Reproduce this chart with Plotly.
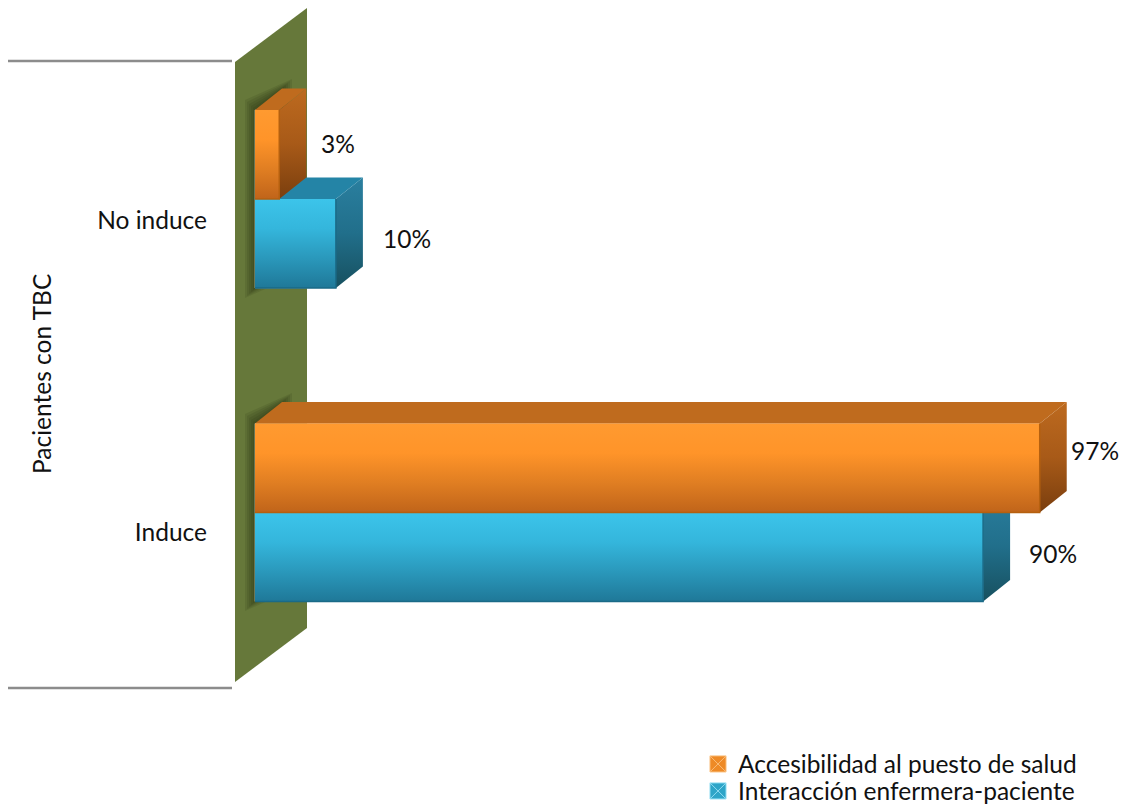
import plotly.graph_objects as go

categories = ["Induce", "No induce"]
acces = [97, 3]
inter = [90, 10]
series_names = ["Accesibilidad al puesto de salud", "Interacción enfermera-paciente"]
axis_title = "Pacientes con TBC"

W, H = 1128, 809
X0_PX, PX_PER_X = 255.0, 8.09
Y0_PX, PX_PER_Y = 512.5, 313.5
FONT = "Lato"
FS = 24.5


def xd(px):
    return (px - X0_PX) / PX_PER_X


def yd(py):
    return (Y0_PX - py) / PX_PER_Y


BAR_H = 89 / PX_PER_Y
DX = 27 / PX_PER_X
DY = 21.5 / PX_PER_Y

STY = {
    "orange": dict(front=["#c0641a", "#e07e22", "#ff9429", "#ff9a30"], side=["#7a3e0e", "#a85a18", "#bd6a1f"], top="#bf6b1e", legend="#ee8a26", x="#f9bd7a", edge="#b5600f"),
    "blue": dict(front=["#1f7898", "#2a98bb", "#34b6dc", "#3cc4ea"], side=["#17505f", "#216f8b", "#2a7f9f"], top="#2484a6", legend="#2ea5c8", x="#8fdcf2", edge="#1a6a87"),
}


def grad(colors):
    n = len(colors) - 1
    return dict(type="vertical", colorscale=[[i / n, c] for i, c in enumerate(colors)])


def poly(xs, ys, colors=None, solid=None):
    kw = dict(
        x=xs + xs[:1], y=ys + ys[:1], mode="lines", line=dict(width=0), fill="toself",
        hoverinfo="skip", showlegend=False,
    )
    if colors:
        kw["fillgradient"] = grad(colors)
    else:
        kw["fillcolor"] = solid
    return go.Scatter(**kw)


def faces(values, sign, sty):
    out = []
    for i, v in enumerate(values):
        y0 = i + sign * BAR_H / 2 - BAR_H / 2
        y1 = y0 + BAR_H
        out.append(poly([v, v + DX, v + DX, v], [y1, y1 + DY, y0 + DY, y0], colors=sty["side"]))
        out.append(poly([0, DX, v + DX, v], [y1, y1 + DY, y1 + DY, y1], solid=sty["top"]))
        out.append(poly([0, v, v, 0], [y0, y0, y1, y1], colors=sty["front"]))
        out.append(go.Scatter(x=[0, v, v], y=[y0, y0, y1], mode="lines", line=dict(color=sty["edge"], width=1.5), hoverinfo="skip", showlegend=False))
    return out


fig = go.Figure()
fig.add_bar(y=[0, 1], x=inter, orientation="h", name=series_names[1], marker=dict(color=STY["blue"]["legend"]), hoverinfo="skip", showlegend=False)
fig.add_bar(y=[0, 1], x=acces, orientation="h", name=series_names[0], marker=dict(color=STY["orange"]["legend"]), hoverinfo="skip", showlegend=False)

for tr in faces(inter, -1, STY["blue"]):
    fig.add_trace(tr)
for tr in faces(acces, 1, STY["orange"]):
    fig.add_trace(tr)

# legend keys
for name, key, lg in ((series_names[0], "orange", "legend"), (series_names[1], "blue", "legend2")):
    fig.add_trace(go.Scatter(
        x=[None], y=[None], mode="markers", name=name, legend=lg,
        marker=dict(symbol="square-x", size=16, color=STY[key]["legend"], line=dict(color=STY[key]["x"], width=1)),
        hoverinfo="skip",
    ))

shapes = []
# wall
wall_pts = [(235, 62), (307, 8), (307, 628), (235, 682)]
shapes.append(dict(
    type="path", layer="below", line=dict(width=0), fillcolor="#66783a",
    path="M" + " L".join(f"{xd(a)},{yd(b)}" for a, b in wall_pts) + " Z", xref="x", yref="y",
))
# soft shadow on the wall
for top_px, bot_px in ((110, 288), (424, 601)):
    for grow in (10, 8, 6, 4, 2):
        x_a, x_b = 255 - grow, 282 + grow
        pts = [(x_a, top_px - grow), (x_b, top_px - 21 - grow), (x_b, bot_px - 21 + grow), (x_a, bot_px + grow)]
        shapes.append(dict(
            type="path", layer="below", line=dict(width=0), fillcolor="rgba(30,40,10,0.11)",
            path="M" + " L".join(f"{xd(a)},{yd(b)}" for a, b in pts) + " Z", xref="x", yref="y",
        ))
# axis frame lines
for py in (61, 688):
    shapes.append(dict(type="line", xref="x", yref="y", x0=xd(8), x1=xd(232), y0=yd(py), y1=yd(py), line=dict(color="#8c8c8c", width=2.5)))

# value labels: offsets from the end of each bar (px)
label_series = [acces, acces, inter, inter]
label_idx = [0, 1, 0, 1]
label_sign = [1, 1, -1, -1]
label_dx = [55, 59, 70, 71]
label_dy = [18, 11, 4, 5]
annotations = []
for s, i, sg, dx, dy in zip(label_series, label_idx, label_sign, label_dx, label_dy):
    v = s[i]
    annotations.append(dict(
        x=v, y=i + sg * BAR_H / 2, xref="x", yref="y", text=f"{v}%", showarrow=False,
        xshift=dx, yshift=dy, font=dict(family=FONT, size=FS, color="#111111"),
    ))
annotations.append(dict(
    x=xd(41), y=yd(374), xref="x", yref="y", text=axis_title, textangle=-90, showarrow=False,
    font=dict(family=FONT, size=FS, color="#111111"),
))

legend_common = dict(
    xanchor="left", yanchor="middle", bgcolor="rgba(0,0,0,0)", itemwidth=30,
    font=dict(family=FONT, size=FS, color="#111111"),
)

fig.update_layout(
    width=W, height=H, margin=dict(l=0, r=0, t=0, b=0, autoexpand=False),
    paper_bgcolor="white", plot_bgcolor="white",
    barmode="group", bargap=1 - 2 * 89 / PX_PER_Y, bargroupgap=0,
    font=dict(family=FONT, size=FS, color="#111111"),
    xaxis=dict(range=[xd(0), xd(W)], visible=False, fixedrange=True),
    yaxis=dict(
        range=[yd(H), yd(0)], tickmode="array", tickvals=[yd(532), yd(220)], ticktext=categories,
        anchor="free", position=207 / W, showgrid=False, zeroline=False, showline=False,
        ticks="", ticklen=0, automargin=False, fixedrange=True,
    ),
    shapes=shapes, annotations=annotations,
    showlegend=True,
    legend=dict(x=698 / W, y=1 - 764 / H, **legend_common),
    legend2=dict(x=698 / W, y=1 - 791 / H, **legend_common),
)
fig.write_html("out.html", config=dict(displayModeBar=False), post_script="document.body.style.margin='0';")
